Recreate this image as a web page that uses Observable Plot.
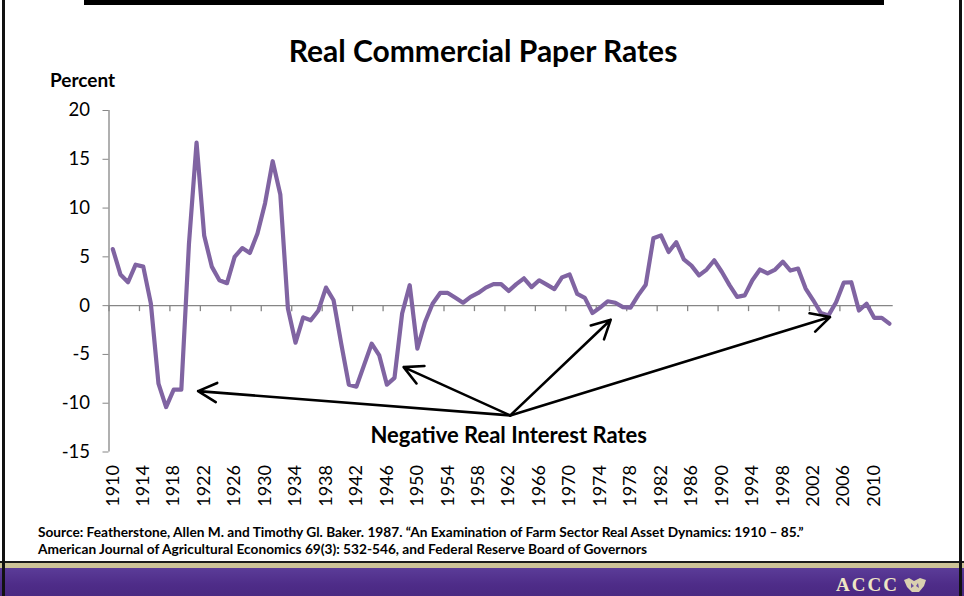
<!DOCTYPE html>
<html>
<head>
<meta charset="utf-8">
<script src="https://cdn.jsdelivr.net/npm/d3@7"></script>
<script src="https://cdn.jsdelivr.net/npm/@observablehq/plot@0.6"></script>
<style>
  html, body { margin: 0; padding: 0; background: #fff; }
  #wrap { position: relative; width: 964px; height: 596px; overflow: hidden; background: #fff; font-family: Lato, "Open Sans", sans-serif; }
  .abs { position: absolute; }
  #topbar { left: 84px; top: 0; width: 800px; height: 5px; background: #000; }
  #lborder { left: 2px; top: 0; width: 3px; height: 596px; background: #111; z-index: 3; }
  #rborder { left: 959px; top: 0; width: 3px; height: 596px; background: #111; z-index: 3; }
  #bline { left: 0; top: 561px; width: 964px; height: 2px; background: #1a1a1a; }
  #gold { left: 0; top: 563px; width: 964px; height: 5px; background: #cdc397; }
  #purple { left: 0; top: 568px; width: 964px; height: 28px; background: linear-gradient(180deg, #5b3c98 0%, #4e2c88 60%, #4a2982 100%); }
  #accc { left: 836px; top: 575px; font-family: "Liberation Serif", "DejaVu Serif", serif; font-weight: bold; font-size: 19px; letter-spacing: 2px; color: #efe6c4; line-height: 19px; }
  #logo { left: 902px; top: 577px; }
  #title { left: 0; top: 32px; width: 966px; text-align: center; font-weight: bold; font-size: 30px; line-height: 36px; color: #000; }
  #ylabel { left: 50px; top: 69px; font-weight: bold; font-size: 19px; line-height: 22px; color: #000; }
  #source { left: 38px; top: 524px; font-weight: bold; font-size: 13.7px; line-height: 16.5px; color: #000; white-space: nowrap; }
  #chart { left: 0; top: 0; }
</style>
</head>
<body>
<div id="wrap">
  <div id="topbar" class="abs"></div>
  <div id="title" class="abs">Real Commercial Paper Rates</div>
  <div id="ylabel" class="abs">Percent</div>
  <div id="chart" class="abs"></div>
  <div id="source" class="abs">Source: Featherstone, Allen M. and Timothy Gl. Baker. 1987. “An Examination of Farm Sector Real Asset Dynamics: 1910 – 85.”<br>American Journal of Agricultural Economics 69(3): 532-546, and Federal Reserve Board of Governors</div>
  <div id="bline" class="abs"></div>
  <div id="gold" class="abs"></div>
  <div id="purple" class="abs"></div>
  <div id="accc" class="abs">ACCC</div>
  <svg id="logo" class="abs" width="26" height="16" viewBox="0 0 26 16"><path d="M2 3 L7 1 L12 4 L18 1 L24 3 L22 9 L17 15 L10 15 L5 10 Z" fill="#d9d0b0"/><path d="M9 6 L12 9 L9 11 Z M16 6 L14 9 L17 11 Z" fill="#6a4fa0"/></svg>
  <div id="lborder" class="abs"></div>
  <div id="rborder" class="abs"></div>
</div>
<script>
// ---- data ----
const startYear = 1910;
const rates = [
  5.8, 3.2, 2.4, 4.2, 4.0, 0.2, -8.0, -10.4, -8.6, -8.6,      // 1910-1919
  6.3, 16.7, 7.2, 4.0, 2.6, 2.3, 5.0, 5.9, 5.4, 7.4,          // 1920-1929
  10.5, 14.8, 11.4, -0.3, -3.8, -1.2, -1.5, -0.5, 1.85, 0.55, // 1930-1939
  -3.9, -8.1, -8.3, -6.1, -3.9, -5.1, -8.1, -7.4, -0.8, 2.1,  // 1940-1949
  -4.4, -1.7, 0.2, 1.3, 1.3, 0.8, 0.3, 0.9, 1.3, 1.85,        // 1950-1959
  2.2, 2.2, 1.5, 2.2, 2.8, 1.9, 2.6, 2.15, 1.7, 2.9,          // 1960-1969
  3.2, 1.2, 0.8, -0.75, -0.2, 0.45, 0.3, -0.15, -0.2, 1.05,   // 1970-1979
  2.15, 6.9, 7.2, 5.5, 6.5, 4.75, 4.1, 3.1, 3.7, 4.65,        // 1980-1989
  3.45, 2.1, 0.9, 1.05, 2.6, 3.7, 3.3, 3.7, 4.5, 3.6,         // 1990-1999
  3.8, 1.75, 0.55, -0.75, -1.0, 0.35, 2.35, 2.4, -0.5, 0.2,   // 2000-2009
  -1.25, -1.25, -1.85                                         // 2010-2012
];
const xTickLabels = [1910, 1914, 1918, 1922, 1926, 1930, 1934, 1938, 1942, 1946, 1950, 1954, 1958,
  1962, 1966, 1970, 1974, 1978, 1982, 1986, 1990, 1994, 1998, 2002, 2006, 2010];
const yTicks = [-15, -10, -5, 0, 5, 10, 15, 20];
const annotationText = ["Negative Real Interest Rates"];
const annotationAt = [{x: 1962, y: -13.4}];
const arrowFrom = {x: 1962.2, y: -11.25};
const arrowTo = [
  {x: 1921.2, y: -8.76},
  {x: 1948.2, y: -6.3},
  {x: 1975.4, y: -1.44},
  {x: 2004.2, y: -1.17}
];

// ---- build ----
const table = rates.map((r, i) => ({year: startYear + i, rate: r}));
const xDomain = [startYear - 0.5, startYear + rates.length - 0.5];
const boundaries = d3.range(xDomain[0], xDomain[1] + 0.01, 4);
const arrows = arrowTo.map(t => ({x1: arrowFrom.x, y1: arrowFrom.y, x2: t.x, y2: t.y}));
const annotations = annotationText.map((t, i) => ({text: t, ...annotationAt[i]}));
const axisGray = "#868686";

const chart = Plot.plot({
  width: 964,
  height: 520,
  marginLeft: 108.5,
  marginRight: 71.3,
  marginTop: 110,
  marginBottom: 68.5,
  style: {fontFamily: "Lato, 'Open Sans', sans-serif", fontSize: "18px", background: "transparent", color: "#000", overflow: "visible"},
  x: {domain: xDomain, axis: null},
  y: {domain: [yTicks[0], yTicks[yTicks.length - 1]], axis: null},
  marks: [
    Plot.axisY({ticks: yTicks, tickSize: 6, tickPadding: 13, stroke: axisGray, fill: "#000", label: null, fontSize: 18.5, tickFormat: d => String(d)}),
    Plot.axisX({ticks: xTickLabels, tickSize: 0, tickPadding: 13, tickRotate: -90, tickFormat: d => String(d), fill: "#000", label: null, fontSize: 18}),
    Plot.ruleX([xDomain[0]], {y1: yTicks[0], y2: yTicks[yTicks.length - 1], stroke: axisGray, strokeWidth: 1.3}),
    Plot.ruleY([0], {stroke: axisGray, strokeWidth: 1.3}),
    Plot.ruleX(boundaries, {x: d => d, y1: 0, y2: 0, insetBottom: -6, stroke: axisGray, strokeWidth: 1.3}),
    Plot.line(table, {x: "year", y: "rate", stroke: "#8064A2", strokeWidth: 4.2, strokeLinejoin: "round", strokeLinecap: "round"}),
    Plot.arrow(arrows, {x1: "x1", y1: "y1", x2: "x2", y2: "y2", stroke: "#000", strokeWidth: 2.6, headLength: 12, headAngle: 55}),
    Plot.text(annotations, {x: "x", y: "y", text: "text", fontWeight: "bold", fontSize: 22, fill: "#000"})
  ]
});
document.getElementById("chart").appendChild(chart);
</script>
</body>
</html>
